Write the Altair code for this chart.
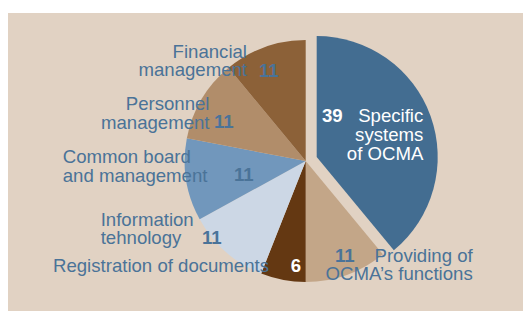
import altair as alt
import pandas as pd

# ---- data ----
categories = [
    "Specific systems of OCMA",
    "Providing of OCMA’s functions",
    "Registration of documents",
    "Information tehnology",
    "Common board and management",
    "Personnel management",
    "Financial management",
]
values = [39, 11, 6, 11, 11, 11, 11]
colors = ["#436d91", "#c3a688", "#643812", "#ccd7e5", "#7197bc", "#b18d6a", "#8c6138"]
label_lines = [
    ["Specific", "systems", "of OCMA"],
    ["Providing of", "OCMA’s functions"],
    ["Registration of documents"],
    ["Information", "tehnology"],
    ["Common board", "and management"],
    ["Personnel", "management"],
    ["Financial", "management"],
]

BG = "#e1d2c3"
LBL = "#4a7398"
FONT = "Liberation Sans"
FS = 18.6
LH = 18.8

df = pd.DataFrame({"cat": categories, "val": values, "idx": list(range(len(values)))})

CX, CY, R = 297.7, 148, 121

color_scale = alt.Scale(domain=categories, range=colors)

base = alt.Chart(df).encode(
    theta=alt.Theta("val:Q", stack=True),
    order=alt.Order("idx:Q"),
    color=alt.Color("cat:N", scale=color_scale, legend=None),
)

pie_rest = base.mark_arc(radius=R, x=CX, y=CY, strokeWidth=0).encode(
    opacity=alt.condition(alt.datum.idx == 0, alt.value(0), alt.value(1))
)
pie_explode = base.mark_arc(radius=R, x=CX, y=CY, xOffset=11, yOffset=-4, strokeWidth=0).encode(
    opacity=alt.condition(alt.datum.idx == 0, alt.value(1), alt.value(0))
)

one = alt.Data(values=[{"a": 1}])


def label(text, x, y, align="left", color=LBL, bold=False):
    return alt.Chart(one).mark_text(
        text=text, align=align, baseline="alphabetic", font=FONT, fontSize=FS,
        fontWeight="bold" if bold else "normal", color=color, lineHeight=LH,
    ).encode(x=alt.value(x), y=alt.value(y))


texts = [
    # Specific systems
    label(label_lines[0], 415.3, 109, align="right", color="white"),
    label(str(values[0]), 314, 109, color="white", bold=True),
    # Providing
    label(label_lines[1], 464.7, 248.7, align="right"),
    label(str(values[1]), 327, 248.7, bold=True),
    # Registration
    label(label_lines[2], 45, 258.7),
    label(str(values[2]), 282.7, 258.7, color="white", bold=True),
    # Information technology
    label(label_lines[3], 92.7, 212.7),
    label(str(values[3]), 194, 231, bold=True),
    # Common board
    label(label_lines[4], 54.7, 150),
    label(str(values[4]), 226, 168, bold=True),
    # Personnel
    label(label_lines[5], 201.5, 97, align="right"),
    label(str(values[5]), 206, 115, bold=True),
    # Financial
    label(label_lines[6], 239, 44.7, align="right"),
    label(str(values[6]), 251, 63.7, bold=True),
]

chart = alt.layer(pie_rest, pie_explode, *texts).properties(
    width=515,
    height=298,
    padding={"left": 0, "top": 5, "right": 0, "bottom": 0},
    background="white",
).configure_view(fill=BG, strokeWidth=0)

chart.save("out.html", embed_options={"renderer": "svg", "actions": False})
